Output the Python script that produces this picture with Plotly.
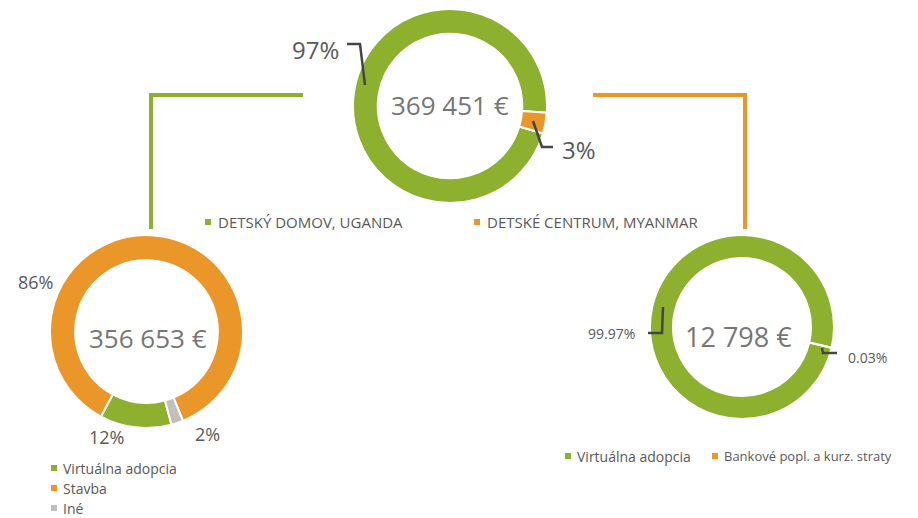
import plotly.graph_objects as go

# ---------------- data ----------------
top_labels = ["DETSKÝ DOMOV, UGANDA", "DETSKÉ CENTRUM, MYANMAR"]
top_values = [356653, 12798]

left_labels = ["Virtuálna adopcia", "Stavba", "Iné"]
left_values = [42798, 306722, 7133]

right_labels = ["Virtuálna adopcia", "Bankové popl. a kurz. straty"]
right_values = [12794, 4]

GREEN = "#8DB02F"
ORANGE = "#EA9629"
GREY = "#BFBFBF"
TXT = "#595959"
LEAD = "#454545"
CTXT = "#767676"
FONT = "Open Sans"

# page has an 8px body margin; figure fills the rest of the 918x518 window
OFF = 8
W, H = 918 - OFF, 518 - OFF


def X(px):
    return (px - OFF) / W


def Y(py):
    return 1 - (py - OFF) / H


def fmt_total(v):
    return f"{v:,.0f}".replace(",", " ") + " €"


def pct(values, i, dec=0):
    t = sum(values)
    return f"{100 * values[i] / t:.{dec}f}%"


fig = go.Figure()


def add_pie(values, labels, colors, cx, cy, r, hole, rotation):
    fig.add_trace(go.Pie(
        values=values, labels=labels, hole=hole, sort=False,
        direction="clockwise", rotation=rotation,
        marker=dict(colors=colors, line=dict(color="white", width=2)),
        textinfo="none", showlegend=False,
        domain=dict(x=[X(cx - r), X(cx + r)], y=[max(0, Y(cy + r)), min(1, Y(cy - r))]),
    ))


add_pie(top_values, top_labels, [GREEN, ORANGE], 450, 106, 97, 0.745, 106.5)
add_pie(left_values, left_labels, [GREEN, ORANGE, GREY], 146.5, 331.5, 96.5, 0.74, 165)
add_pie(right_values, right_labels, [GREEN, ORANGE], 742, 327, 92, 0.75, 103.1)

shapes = []
annotations = []


def text(x, y, s, size, color=TXT, xanchor="center"):
    annotations.append(dict(x=X(x), y=Y(y), xref="paper", yref="paper", text=s,
                            showarrow=False, xanchor=xanchor, yanchor="middle",
                            font=dict(family=FONT, size=size, color=color)))


def path(points, color, width):
    d = "M " + " L ".join(f"{X(a)},{Y(b)}" for a, b in points)
    shapes.append(dict(type="path", path=d, xref="paper", yref="paper",
                       line=dict(color=color, width=width)))


def square(x, y, color, s=6):
    shapes.append(dict(type="rect", xref="paper", yref="paper",
                       x0=X(x - s / 2), x1=X(x + s / 2), y0=Y(y + s / 2), y1=Y(y - s / 2),
                       fillcolor=color, line=dict(width=0)))


# connectors
path([(151, 229), (151, 95), (303, 95)], GREEN, 4)
path([(593, 95), (745, 95), (745, 229)], ORANGE, 4)

# center totals
text(450, 105, fmt_total(sum(top_values)), 26, CTXT)
text(148, 338, fmt_total(sum(left_values)), 26, CTXT)
text(738, 336, fmt_total(sum(right_values)), 27, CTXT)

# top labels
text(315, 49, pct(top_values, 0), 24)
path([(347, 44), (360, 44), (365, 85)], LEAD, 2.5)
text(579, 149, pct(top_values, 1), 24)
path([(533, 121), (542, 147), (553, 147)], LEAD, 2.5)

# left labels
text(106, 437, pct(left_values, 0), 18)
text(35, 282, pct(left_values, 1), 18)
text(207, 434, pct(left_values, 2), 18)

# right labels
text(611, 333, pct(right_values, 0, 2), 14)
path([(648, 333), (662, 333), (663, 307)], LEAD, 2.5)
text(867, 357, pct(right_values, 1, 2), 14)
path([(822, 348), (823, 353), (837, 353)], LEAD, 2.5)

# legends
square(208, 222, GREEN)
text(216, 222, top_labels[0], 15, xanchor="left")
square(477, 222, ORANGE)
text(485, 222, top_labels[1], 15, xanchor="left")

for i, (lab, col) in enumerate(zip(left_labels, [GREEN, ORANGE, GREY])):
    square(54, 468 + 20 * i, col)
    text(61, 468 + 20 * i, lab, 14, xanchor="left")

square(568, 456, GREEN)
text(575, 456, right_labels[0], 14, xanchor="left")
square(715, 456, ORANGE)
text(722, 456, right_labels[1], 13, xanchor="left")

fig.update_layout(width=W, height=H, margin=dict(l=0, r=0, t=0, b=0),
                  paper_bgcolor="white", plot_bgcolor="white",
                  shapes=shapes, annotations=annotations,
                  font=dict(family=FONT, color=TXT))

fig.write_html("out.html")
